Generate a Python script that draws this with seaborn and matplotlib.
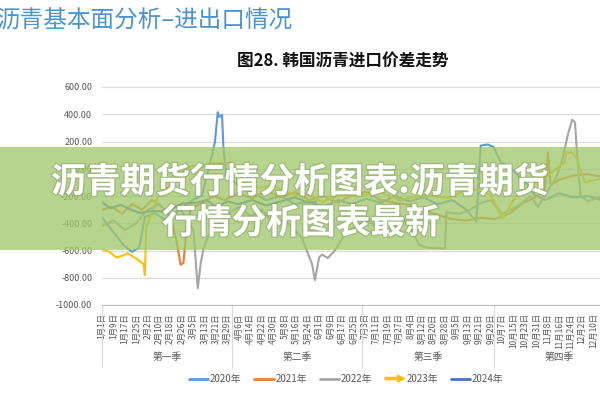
import pandas as pd
import matplotlib.pyplot as plt
import matplotlib.patches as mpatches
import matplotlib.patheffects as pe
from matplotlib.lines import Line2D
import seaborn as sns

# price spread data (day of year, value)
days_2020 = [0, 8, 15, 21, 26, 30, 37, 44, 52, 61, 70, 74, 77, 79, 81, 82, 84, 85, 87, 95, 105, 115, 125,
             135, 145, 155, 165, 175, 185, 195, 205, 215, 225, 235, 245, 255, 262, 265, 270, 274, 279, 289,
             298, 303, 310, 320, 330, 340, 350, 360]
vals_2020 = [-360, -465, -560, -610, -580, -355, -325, -375, -320, -245, -195, -25, 100, 195, 415, 380, 395,
             150, -45, -120, -180, -230, -200, -260, -240, -280, -230, -260, -220, -250, -200, -240, -210,
             -260, -230, -300, -390, 170, 178, 160, 50, -25, -120, -195, -230, -180, -210, -200, -230, -220]

days_2021 = [0, 7, 14, 21, 28, 35, 42, 48, 52, 55, 57, 59, 62, 70, 78, 86, 95, 105, 115, 125, 135, 145, 155,
             165, 175, 185, 195, 205, 215, 225, 235, 245, 255, 265, 275, 285, 295, 305, 310, 312, 314, 320,
             330, 340, 350, 360]
vals_2021 = [-300, -280, -330, -260, -300, -230, -280, -350, -520, -705, -690, -450, -300, -250, -200, -230,
             -180, -220, -160, -210, -170, -230, -200, -250, -190, -170, -230, -250, -265, -300, -340, -370,
             -380, -360, -370, -330, -250, -200, -150, 120, -120, -80, -50, -40, -60, -45]

days_2022 = [0, 8, 16, 24, 32, 40, 48, 55, 60, 64, 67, 69, 71, 74, 80, 88, 96, 104, 112, 120, 128, 135, 140,
             147, 149, 152, 154, 158, 163, 170, 178, 186, 194, 200, 206, 215, 222, 228, 240, 241, 250, 258,
             265, 272, 280, 290, 300, 305, 312, 318, 322, 326, 329, 331, 333, 335, 340, 350, 360]
vals_2022 = [-420, -380, -450, -400, -300, -260, -350, -300, -380, -450, -877, -700, -590, -500, -420, -330,
             -280, -350, -300, -400, -380, -450, -510, -700, -818, -650, -630, -655, -600, -480, -420, -380,
             -440, -380, -330, -420, -560, -580, -585, -320, -330, -300, -250, -230, -330, -280, -200, -280,
             -160, -60, 60, 250, 360, 340, 20, -200, -240, -200, -180]

days_2023 = [0, 5, 10, 14, 18, 24, 29, 30, 31, 36, 40, 48, 56, 63, 68, 77, 87, 90, 100, 110, 119, 129, 136,
             145, 154, 166, 181, 194, 208, 227, 243, 257, 272, 280, 282, 290, 300, 312, 324, 325, 329, 332,
             338, 348, 360]
vals_2023 = [-590, -610, -650, -640, -620, -660, -700, -780, -430, -280, -190, -120, -25, 25, 5, 40, 40, 50,
             -100, -140, -120, -170, -195, -190, -245, -195, -195, -170, -230, -195, -215, -140, -190, -360,
             -330, -195, -125, -50, 50, 120, 120, 80, -100, -75, -60]

days_2024 = [0, 6, 13, 20, 27, 35, 45, 56, 66, 73, 80, 88, 95, 105, 115, 125, 135, 145, 150]
vals_2024 = [-245, -290, -265, -300, -325, -310, -315, -255, -250, -230, -280, -240, -260, -230, -270, -240,
             -210, -250, -240]

years = ['2020年', '2021年', '2022年', '2023年', '2024年']
colors = ['#5B9BD5', '#ED7D31', '#A5A5A5', '#FFC000', '#4472C4']

tick_days = list(range(0, 345, 8))
tick_labels = ['1月1日', '1月9日', '1月17日', '1月25日', '2月2日', '2月10日', '2月18日', '2月26日', '3月5日',
               '3月13日', '3月21日', '3月29日', '4月6日', '4月14日', '4月22日', '4月30日', '5月8日', '5月16日',
               '5月24日', '6月1日', '6月9日', '6月17日', '6月25日', '7月3日', '7月11日', '7月19日', '7月27日',
               '8月4日', '8月12日', '8月20日', '8月28日', '9月5日', '9月13日', '9月21日', '9月29日', '10月7日',
               '10月15日', '10月23日', '10月31日', '11月8日', '11月16日', '11月24日', '12月2日', '12月10日']
quarters = ['第一季', '第二季', '第三季', '第四季']
quarter_edges = [0, 91, 182, 274, 366]

frames = []
for y, d, v in zip(years, [days_2020, days_2021, days_2022, days_2023, days_2024],
                   [vals_2020, vals_2021, vals_2022, vals_2023, vals_2024]):
    frames.append(pd.DataFrame({'year': y, 'day': d, 'value': v}))
df = pd.concat(frames, ignore_index=True)

sns.set_style('white')
plt.rcParams['font.family'] = ['Noto Sans CJK SC', 'DejaVu Sans']

fig = plt.figure(figsize=(6, 4), dpi=100)
ax = fig.add_axes([102 / 600, 95 / 400, 523 / 600, 218 / 400])

sns.lineplot(data=df, x='day', y='value', hue='year', palette=dict(zip(years, colors)),
             estimator=None, sort=False, legend=False, linewidth=1.5, ax=ax)

ax.set_xlim(0, 366)
ax.set_ylim(-1000, 600)
ax.set_yticks(range(-1000, 601, 200))
ax.set_yticklabels(['%.2f' % t for t in range(-1000, 601, 200)], fontsize=6.5, color='#595959')
ax.set_xticks(tick_days)
ax.set_xticklabels(tick_labels, rotation=90, fontsize=6, color='#595959', va='top')
ax.tick_params(axis='both', length=0)
ax.tick_params(axis='x', pad=6)
ax.tick_params(axis='y', pad=7)
ax.set_xlabel('')
ax.set_ylabel('')
ax.grid(axis='y', color='#d9d9d9', linewidth=0.8)
for s in ['top', 'right', 'left']:
    ax.spines[s].set_visible(False)
ax.spines['bottom'].set_color('#bfbfbf')

# quarter groups under the axis
tr = ax.get_xaxis_transform()
for e in quarter_edges:
    ax.plot([e, e], [0, -0.285], color='#d9d9d9', lw=0.8, transform=tr, clip_on=False)
for i, q in enumerate(quarters):
    mid = (quarter_edges[i] + quarter_edges[i + 1]) / 2
    ax.text(mid, -0.24, q, transform=tr, ha='center', va='center', fontsize=7, color='#595959')


class ArrowHandler:
    def legend_artist(self, legend, orig_handle, fontsize, handlebox):
        w, h = handlebox.width, handlebox.height
        arr = mpatches.FancyArrow(0, h / 2, w, 0, width=1.6, head_width=h * 1.0, head_length=w * 0.35,
                                  length_includes_head=True, color='#FFC000')
        handlebox.add_artist(arr)
        return arr


handles = [Line2D([0], [0], color=c, lw=2) for c in colors]
handles[3] = mpatches.Patch(color='#FFC000')
fig.legend(handles, years, loc='center', bbox_to_anchor=(346 / 600, 1 - 379 / 400), ncol=5, frameon=False,
           fontsize=7, handlelength=2.0, handletextpad=0.2, columnspacing=1.3, labelcolor='#595959',
           handler_map={handles[3]: ArrowHandler()})

# slide titles
fig.text(-4 / 600, 1 - 21 / 400, '沥青基本面分析–进出口情况', fontsize=17, color='#4a93d0',
         ha='left', va='center')
fig.text(343 / 600, 1 - 62 / 400, '图28. 韩国沥青进口价差走势', fontsize=12, fontweight='bold',
         color='#111111', ha='center', va='center')

# green banner overlay
fig.add_artist(mpatches.Rectangle((0, 1 - 250 / 400), 1, 103 / 400, transform=fig.transFigure,
                                  facecolor='#9fc76a', alpha=0.76, edgecolor='none', zorder=5))
shadow = [pe.withStroke(linewidth=2, foreground='#7a8a6a', alpha=0.35)]
fig.text(300 / 600, 1 - 182 / 400, '沥青期货行情分析图表:沥青期货', fontsize=25, fontweight='bold',
         color='white', ha='center', va='center', zorder=6, path_effects=shadow)
fig.text(301 / 600, 1 - 223 / 400, '行情分析图表最新', fontsize=25, fontweight='bold',
         color='white', ha='center', va='center', zorder=6, path_effects=shadow)

fig.savefig('out.png', dpi=100)
